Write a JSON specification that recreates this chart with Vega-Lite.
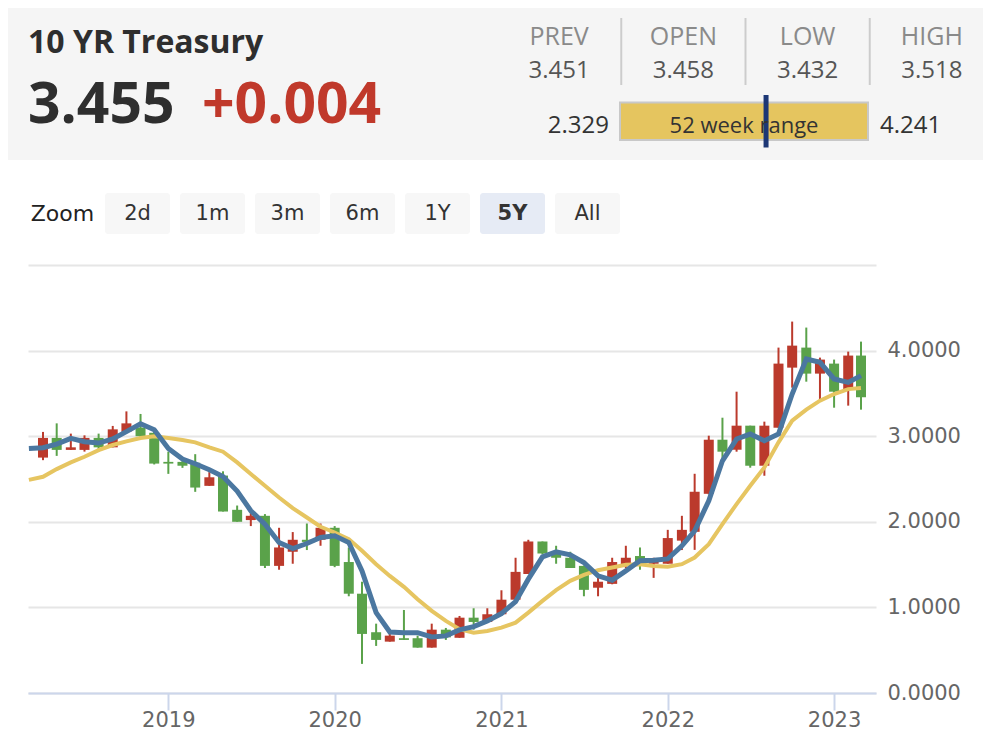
{
  "$schema": "https://vega.github.io/schema/vega-lite/v6.json",
  "background": "white",
  "padding": {"left": 8, "top": 8, "right": 0, "bottom": 0},
  "config": {"view": {"stroke": null}},
  "datasets": {
    "quote": [
      {"line": "name", "part": "main", "text": "10 YR Treasury"},
      {"line": "quote", "part": "main", "text": "3.455"},
      {"line": "quote", "part": "change", "text": "+0.004"}
    ],
    "stats": [
      {"stat": "PREV", "value": "3.451"},
      {"stat": "OPEN", "value": "3.458"},
      {"stat": "LOW", "value": "3.432"},
      {"stat": "HIGH", "value": "3.518"}
    ],
    "range52": [
      {"label": "52 week range", "low": 2.329, "high": 4.241, "last": 3.455}
    ],
    "zoom": [
      {"label": "Zoom", "kind": "label", "selected": false},
      {"label": "2d", "kind": "button", "selected": false},
      {"label": "1m", "kind": "button", "selected": false},
      {"label": "3m", "kind": "button", "selected": false},
      {"label": "6m", "kind": "button", "selected": false},
      {"label": "1Y", "kind": "button", "selected": false},
      {"label": "5Y", "kind": "button", "selected": true},
      {"label": "All", "kind": "button", "selected": false}
    ],
    "candles": [
      {"date": "2018-04-01", "open": 2.75, "high": 3.05, "low": 2.72, "close": 2.98},
      {"date": "2018-05-01", "open": 2.98, "high": 3.15, "low": 2.77, "close": 2.84},
      {"date": "2018-06-01", "open": 2.84, "high": 3.03, "low": 2.84, "close": 2.87},
      {"date": "2018-07-01", "open": 2.84, "high": 3.01, "low": 2.82, "close": 2.98},
      {"date": "2018-08-01", "open": 2.98, "high": 3.03, "low": 2.82, "close": 2.87},
      {"date": "2018-09-01", "open": 2.87, "high": 3.12, "low": 2.87, "close": 3.08},
      {"date": "2018-10-01", "open": 3.05, "high": 3.29, "low": 3.05, "close": 3.15},
      {"date": "2018-11-01", "open": 3.10, "high": 3.26, "low": 2.99, "close": 3.00},
      {"date": "2018-12-01", "open": 3.04, "high": 3.06, "low": 2.67, "close": 2.68},
      {"date": "2019-01-01", "open": 2.70, "high": 2.82, "low": 2.56, "close": 2.68},
      {"date": "2019-02-01", "open": 2.70, "high": 2.73, "low": 2.63, "close": 2.655},
      {"date": "2019-03-01", "open": 2.69, "high": 2.79, "low": 2.35, "close": 2.40},
      {"date": "2019-04-01", "open": 2.42, "high": 2.58, "low": 2.42, "close": 2.52},
      {"date": "2019-05-01", "open": 2.54, "high": 2.59, "low": 2.12, "close": 2.12},
      {"date": "2019-06-01", "open": 2.14, "high": 2.19, "low": 2.00, "close": 2.00},
      {"date": "2019-07-01", "open": 2.02, "high": 2.14, "low": 1.95, "close": 2.07},
      {"date": "2019-08-01", "open": 2.07, "high": 2.09, "low": 1.46, "close": 1.485},
      {"date": "2019-09-01", "open": 1.485, "high": 1.93, "low": 1.44, "close": 1.70},
      {"date": "2019-10-01", "open": 1.65, "high": 1.88, "low": 1.51, "close": 1.79},
      {"date": "2019-11-01", "open": 1.79, "high": 1.98, "low": 1.67, "close": 1.765},
      {"date": "2019-12-01", "open": 1.79, "high": 1.98, "low": 1.72, "close": 1.93},
      {"date": "2020-01-01", "open": 1.93, "high": 1.95, "low": 1.47, "close": 1.485},
      {"date": "2020-02-01", "open": 1.53, "high": 1.70, "low": 1.13, "close": 1.16},
      {"date": "2020-03-01", "open": 1.16, "high": 1.30, "low": 0.34, "close": 0.69},
      {"date": "2020-04-01", "open": 0.71, "high": 0.81, "low": 0.55, "close": 0.62},
      {"date": "2020-05-01", "open": 0.60, "high": 0.71, "low": 0.60, "close": 0.67},
      {"date": "2020-06-01", "open": 0.64, "high": 0.97, "low": 0.62, "close": 0.62},
      {"date": "2020-07-01", "open": 0.64, "high": 0.67, "low": 0.53, "close": 0.53},
      {"date": "2020-08-01", "open": 0.53, "high": 0.81, "low": 0.53, "close": 0.74},
      {"date": "2020-09-01", "open": 0.74, "high": 0.76, "low": 0.62, "close": 0.65},
      {"date": "2020-10-01", "open": 0.645, "high": 0.90, "low": 0.645, "close": 0.88},
      {"date": "2020-11-01", "open": 0.88, "high": 0.99, "low": 0.74, "close": 0.83},
      {"date": "2020-12-01", "open": 0.83, "high": 0.99, "low": 0.83, "close": 0.92},
      {"date": "2021-01-01", "open": 0.92, "high": 1.20, "low": 0.92, "close": 1.09},
      {"date": "2021-02-01", "open": 1.09, "high": 1.58, "low": 1.09, "close": 1.415},
      {"date": "2021-03-01", "open": 1.39, "high": 1.79, "low": 1.39, "close": 1.77},
      {"date": "2021-04-01", "open": 1.77, "high": 1.77, "low": 1.62, "close": 1.63},
      {"date": "2021-05-01", "open": 1.63, "high": 1.72, "low": 1.51, "close": 1.58},
      {"date": "2021-06-01", "open": 1.58, "high": 1.65, "low": 1.46, "close": 1.46},
      {"date": "2021-07-01", "open": 1.485, "high": 1.49, "low": 1.13, "close": 1.205},
      {"date": "2021-08-01", "open": 1.23, "high": 1.345, "low": 1.13, "close": 1.30},
      {"date": "2021-09-01", "open": 1.275, "high": 1.58, "low": 1.27, "close": 1.53},
      {"date": "2021-10-01", "open": 1.485, "high": 1.72, "low": 1.46, "close": 1.58},
      {"date": "2021-11-01", "open": 1.60, "high": 1.70, "low": 1.44, "close": 1.51},
      {"date": "2021-12-01", "open": 1.51, "high": 1.58, "low": 1.345, "close": 1.556},
      {"date": "2022-01-01", "open": 1.51, "high": 1.906, "low": 1.51, "close": 1.81},
      {"date": "2022-02-01", "open": 1.78, "high": 2.07, "low": 1.67, "close": 1.906},
      {"date": "2022-03-01", "open": 1.883, "high": 2.561, "low": 1.672, "close": 2.351},
      {"date": "2022-04-01", "open": 2.327, "high": 3.006, "low": 2.32, "close": 2.959},
      {"date": "2022-05-01", "open": 2.959, "high": 3.216, "low": 2.725, "close": 2.819},
      {"date": "2022-06-01", "open": 2.842, "high": 3.52, "low": 2.819, "close": 3.123},
      {"date": "2022-07-01", "open": 3.123, "high": 3.123, "low": 2.632, "close": 2.655},
      {"date": "2022-08-01", "open": 2.655, "high": 3.17, "low": 2.538, "close": 3.123},
      {"date": "2022-09-01", "open": 3.099, "high": 4.035, "low": 3.099, "close": 3.848},
      {"date": "2022-10-01", "open": 3.801, "high": 4.339, "low": 3.567, "close": 4.058},
      {"date": "2022-11-01", "open": 4.035, "high": 4.269, "low": 3.637, "close": 3.731},
      {"date": "2022-12-01", "open": 3.731, "high": 3.918, "low": 3.427, "close": 3.895},
      {"date": "2023-01-01", "open": 3.848, "high": 3.895, "low": 3.333, "close": 3.52},
      {"date": "2023-02-01", "open": 3.544, "high": 3.988, "low": 3.357, "close": 3.942},
      {"date": "2023-03-01", "open": 3.942, "high": 4.105, "low": 3.31, "close": 3.455}
    ],
    "averages": [
      {"date": "2018-03-01", "fast": 2.855, "slow": 2.49},
      {"date": "2018-04-01", "fast": 2.865, "slow": 2.526},
      {"date": "2018-05-01", "fast": 2.908, "slow": 2.616},
      {"date": "2018-06-01", "fast": 2.975, "slow": 2.694},
      {"date": "2018-07-01", "fast": 2.935, "slow": 2.76},
      {"date": "2018-08-01", "fast": 2.92, "slow": 2.838},
      {"date": "2018-09-01", "fast": 2.967, "slow": 2.897},
      {"date": "2018-10-01", "fast": 3.053, "slow": 2.939},
      {"date": "2018-11-01", "fast": 3.146, "slow": 2.979},
      {"date": "2018-12-01", "fast": 3.076, "slow": 2.998},
      {"date": "2019-01-01", "fast": 2.857, "slow": 2.979},
      {"date": "2019-02-01", "fast": 2.733, "slow": 2.955},
      {"date": "2019-03-01", "fast": 2.678, "slow": 2.928},
      {"date": "2019-04-01", "fast": 2.608, "slow": 2.869},
      {"date": "2019-05-01", "fast": 2.53, "slow": 2.819},
      {"date": "2019-06-01", "fast": 2.36, "slow": 2.694},
      {"date": "2019-07-01", "fast": 2.129, "slow": 2.558},
      {"date": "2019-08-01", "fast": 1.973, "slow": 2.421},
      {"date": "2019-09-01", "fast": 1.758, "slow": 2.284},
      {"date": "2019-10-01", "fast": 1.688, "slow": 2.16},
      {"date": "2019-11-01", "fast": 1.746, "slow": 2.05},
      {"date": "2019-12-01", "fast": 1.817, "slow": 1.942},
      {"date": "2020-01-01", "fast": 1.836, "slow": 1.875},
      {"date": "2020-02-01", "fast": 1.758, "slow": 1.798},
      {"date": "2020-03-01", "fast": 1.427, "slow": 1.661},
      {"date": "2020-04-01", "fast": 0.939, "slow": 1.505},
      {"date": "2020-05-01", "fast": 0.713, "slow": 1.368},
      {"date": "2020-06-01", "fast": 0.705, "slow": 1.24},
      {"date": "2020-07-01", "fast": 0.705, "slow": 1.096},
      {"date": "2020-08-01", "fast": 0.655, "slow": 0.959},
      {"date": "2020-09-01", "fast": 0.667, "slow": 0.842},
      {"date": "2020-10-01", "fast": 0.737, "slow": 0.745},
      {"date": "2020-11-01", "fast": 0.776, "slow": 0.705},
      {"date": "2020-12-01", "fast": 0.842, "slow": 0.725},
      {"date": "2021-01-01", "fast": 0.928, "slow": 0.764},
      {"date": "2021-02-01", "fast": 1.068, "slow": 0.822},
      {"date": "2021-03-01", "fast": 1.33, "slow": 0.939},
      {"date": "2021-04-01", "fast": 1.591, "slow": 1.076},
      {"date": "2021-05-01", "fast": 1.649, "slow": 1.201},
      {"date": "2021-06-01", "fast": 1.614, "slow": 1.31},
      {"date": "2021-07-01", "fast": 1.524, "slow": 1.38},
      {"date": "2021-08-01", "fast": 1.368, "slow": 1.435},
      {"date": "2021-09-01", "fast": 1.318, "slow": 1.466},
      {"date": "2021-10-01", "fast": 1.427, "slow": 1.497},
      {"date": "2021-11-01", "fast": 1.544, "slow": 1.505},
      {"date": "2021-12-01", "fast": 1.552, "slow": 1.485},
      {"date": "2022-01-01", "fast": 1.567, "slow": 1.474},
      {"date": "2022-02-01", "fast": 1.719, "slow": 1.505},
      {"date": "2022-03-01", "fast": 1.895, "slow": 1.583},
      {"date": "2022-04-01", "fast": 2.246, "slow": 1.739},
      {"date": "2022-05-01", "fast": 2.713, "slow": 1.973},
      {"date": "2022-06-01", "fast": 2.967, "slow": 2.207},
      {"date": "2022-07-01", "fast": 3.025, "slow": 2.421},
      {"date": "2022-08-01", "fast": 2.947, "slow": 2.635},
      {"date": "2022-09-01", "fast": 3.025, "slow": 2.928},
      {"date": "2022-10-01", "fast": 3.493, "slow": 3.181},
      {"date": "2022-11-01", "fast": 3.902, "slow": 3.31},
      {"date": "2022-12-01", "fast": 3.863, "slow": 3.415},
      {"date": "2023-01-01", "fast": 3.669, "slow": 3.493},
      {"date": "2023-02-01", "fast": 3.629, "slow": 3.55},
      {"date": "2023-03-01", "fast": 3.708, "slow": 3.562}
    ]
  },
  "spacing": 31,
  "vconcat": [
    {
      "spacing": 33,
      "vconcat": [
        {
          "width": 975,
          "height": 152,
          "view": {"fill": "#f5f5f5", "stroke": null},
          "resolve": {"scale": {"x": "independent", "y": "independent"}},
          "layer": [
            {
              "data": {"name": "quote"},
              "encoding": {
                "x": {"field": "part", "type": "nominal", "axis": null,
                      "scale": {"type": "point", "domain": ["main", "change"], "range": [20, 194], "padding": 0}},
                "y": {"field": "line", "type": "nominal", "axis": null,
                      "scale": {"type": "point", "domain": ["name", "quote"], "range": [45, 115], "padding": 0}},
                "text": {"field": "text"}
              },
              "layer": [
                {
                  "transform": [{"filter": "datum.line === 'name'"}],
                  "mark": {"type": "text", "align": "left", "baseline": "alphabetic", "font": "Open Sans", "fontWeight": "bold", "fontSize": 32, "color": "#2e2e2e"}
                },
                {
                  "transform": [{"filter": "datum.line === 'quote'"}],
                  "mark": {"type": "text", "align": "left", "baseline": "alphabetic", "font": "Open Sans", "fontWeight": "bold", "fontSize": 57},
                  "encoding": {"color": {"condition": {"test": "datum.part === 'change'", "value": "#c0392b"}, "value": "#2e2e2e"}}
                }
              ]
            },
            {
              "data": {"name": "stats"},
              "encoding": {
                "x": {"field": "stat", "type": "nominal", "axis": null,
                      "scale": {"type": "band", "domain": ["PREV", "OPEN", "LOW", "HIGH"], "range": [489, 986], "paddingInner": 0, "paddingOuter": 0}}
              },
              "layer": [
                {
                  "mark": {"type": "text", "align": "center", "baseline": "alphabetic", "font": "Open Sans", "fontSize": 25, "color": "#8a8a8a"},
                  "encoding": {
                    "text": {"field": "stat"},
                    "y": {"datum": "label", "type": "nominal", "axis": null,
                          "scale": {"type": "point", "domain": ["top", "g1", "g2", "g3", "label", "g5", "g6", "g7", "g8", "value", "bottom"], "range": [10, 77], "padding": 0}}
                  }
                },
                {
                  "mark": {"type": "text", "align": "center", "baseline": "alphabetic", "font": "Open Sans", "fontSize": 24, "color": "#555555"},
                  "encoding": {
                    "text": {"field": "value"},
                    "y": {"datum": "value", "type": "nominal"}
                  }
                },
                {
                  "transform": [{"filter": "datum.stat !== 'PREV'"}],
                  "mark": {"type": "rule", "color": "#cccccc", "strokeWidth": 2},
                  "encoding": {
                    "x": {"field": "stat", "type": "nominal", "bandPosition": 0},
                    "y": {"datum": "top", "type": "nominal"},
                    "y2": {"datum": "bottom"}
                  }
                }
              ]
            },
            {
              "data": {"name": "range52"},
              "encoding": {
                "x": {"field": "low", "type": "quantitative", "axis": null,
                      "scale": {"domain": [2.329, 4.241], "range": [612, 860], "zero": false, "nice": false}}
              },
              "layer": [
                {
                  "mark": {"type": "rect", "fill": "#e5c55f", "stroke": "#c8c8c8", "strokeWidth": 2},
                  "encoding": {
                    "x2": {"field": "high"},
                    "y": {"datum": "btop", "type": "nominal", "axis": null,
                          "scale": {"type": "point", "domain": ["mtop", "btop", "g2", "g3", "g4", "base", "bbot", "mbot"], "range": [87, 139.5], "padding": 0}},
                    "y2": {"datum": "bbot"}
                  }
                },
                {
                  "mark": {"type": "text", "align": "right", "baseline": "alphabetic", "dx": -11, "font": "Open Sans", "fontSize": 24, "color": "#333333"},
                  "encoding": {
                    "text": {"field": "low", "format": ".3f"},
                    "y": {"datum": "base", "type": "nominal"}
                  }
                },
                {
                  "mark": {"type": "text", "align": "left", "baseline": "alphabetic", "dx": 12, "font": "Open Sans", "fontSize": 24, "color": "#333333"},
                  "encoding": {
                    "x": {"field": "high", "type": "quantitative"},
                    "text": {"field": "high", "format": ".3f"},
                    "y": {"datum": "base", "type": "nominal"}
                  }
                },
                {
                  "mark": {"type": "rule", "color": "#1c3775", "strokeWidth": 5},
                  "encoding": {
                    "x": {"field": "last", "type": "quantitative"},
                    "y": {"datum": "mtop", "type": "nominal"},
                    "y2": {"datum": "mbot"}
                  }
                }
              ]
            },
            {
              "data": {"name": "range52"},
              "mark": {"type": "text", "align": "center", "baseline": "alphabetic", "font": "Open Sans", "fontSize": 22, "color": "#333333"},
              "encoding": {
                "x": {"field": "label", "type": "nominal", "axis": null,
                      "scale": {"type": "band", "domain": ["52 week range"], "range": [612, 860], "paddingInner": 0, "paddingOuter": 0}},
                "y": {"datum": "base", "type": "nominal", "axis": null,
                      "scale": {"type": "point", "domain": ["mtop", "btop", "g2", "g3", "g4", "base", "bbot", "mbot"], "range": [87, 139.5], "padding": 0}},
                "text": {"field": "label"}
              }
            }
          ]
        },
        {
          "width": 640,
          "height": 41,
          "data": {"name": "zoom"},
          "encoding": {
            "x": {"field": "label", "type": "nominal", "axis": null,
                  "scale": {"type": "band", "domain": ["Zoom", "2d", "1m", "3m", "6m", "1Y", "5Y", "All"], "range": [22, 612], "paddingInner": 0.1333, "paddingOuter": 0}}
          },
          "layer": [
            {
              "transform": [{"filter": "datum.kind === 'button'"}],
              "mark": {"type": "rect", "cornerRadius": 3},
              "encoding": {
                "color": {"condition": {"test": "datum.selected", "value": "#e6ebf5"}, "value": "#f7f7f7"}
              }
            },
            {
              "transform": [{"filter": "datum.kind === 'label'"}],
              "mark": {"type": "text", "align": "center", "baseline": "middle", "font": "DejaVu Sans", "fontSize": 22, "color": "#222222"},
              "encoding": {
                "text": {"field": "label"}
              }
            },
            {
              "transform": [{"filter": "datum.kind === 'button' && !datum.selected"}],
              "mark": {"type": "text", "align": "center", "baseline": "middle", "font": "DejaVu Sans", "fontSize": 21, "color": "#333333"},
              "encoding": {
                "text": {"field": "label"}
              }
            },
            {
              "transform": [{"filter": "datum.selected"}],
              "mark": {"type": "text", "align": "center", "baseline": "middle", "font": "DejaVu Sans", "fontSize": 21, "fontWeight": "bold", "color": "#333333"},
              "encoding": {
                "text": {"field": "label"}
              }
            }
          ]
        }
      ]
    },
    {
      "spacing": 0,
      "hconcat": [
        {
          "width": 20,
          "height": 428,
          "data": {"values": [{"spacer": true}]},
          "mark": {"type": "point", "opacity": 0, "size": 1},
          "encoding": {}
        },
        {
          "width": 848,
          "height": 428,
          "resolve": {"axis": {"y": "independent"}},
          "layer": [
            {
              "data": {"name": "candles"},
              "mark": {"type": "rule", "strokeWidth": 2},
              "encoding": {
                "x": {"field": "date", "type": "temporal",
                      "scale": {"type": "utc", "domain": [{"year": 2018, "month": 3, "date": 10, "utc": true}, {"year": 2023, "month": 3, "date": 23, "utc": true}]},
                      "axis": {"format": "%Y", "tickCount": {"interval": "year", "step": 1}, "grid": false, "title": null,
                               "domainColor": "#ccd6eb", "domainWidth": 2, "tickColor": "#ccd6eb", "tickWidth": 2, "tickSize": 17,
                               "labelPadding": -1, "labelFont": "DejaVu Sans", "labelFontSize": 21, "labelColor": "#666666", "labelFlush": false, "zindex": 1}},
                "y": {"field": "low", "type": "quantitative",
                      "scale": {"domain": [0, 5], "nice": false, "zero": true},
                      "axis": {"orient": "right", "values": [0, 1, 2, 3, 4], "format": ".4f", "grid": false, "ticks": false, "domain": false,
                               "labelPadding": 11, "labelFont": "DejaVu Sans", "labelFontSize": 21, "labelColor": "#666666", "title": null}},
                "y2": {"field": "high"},
                "color": {"condition": {"test": "datum.close > datum.open", "value": "#bb3a2c"}, "value": "#5aa24a"}
              }
            },
            {
              "data": {"name": "candles"},
              "mark": {"type": "bar", "width": 10},
              "encoding": {
                "x": {"field": "date", "type": "temporal"},
                "y": {"field": "open", "type": "quantitative", "axis": null},
                "y2": {"field": "close"},
                "color": {"condition": {"test": "datum.close > datum.open", "value": "#bb3a2c"}, "value": "#5aa24a"}
              }
            },
            {
              "data": {"name": "averages"},
              "mark": {"type": "line", "color": "#e6c561", "strokeWidth": 4, "clip": true},
              "encoding": {
                "x": {"field": "date", "type": "temporal"},
                "y": {"field": "slow", "type": "quantitative",
                      "axis": {"orient": "left", "values": [0, 1, 2, 3, 4, 5], "labels": false, "domain": false, "grid": true,
                               "gridColor": "#e6e6e6", "gridWidth": 2, "ticks": false, "title": null}}
              }
            },
            {
              "data": {"name": "averages"},
              "mark": {"type": "line", "color": "#4b77a0", "strokeWidth": 5, "clip": true},
              "encoding": {
                "x": {"field": "date", "type": "temporal"},
                "y": {"field": "fast", "type": "quantitative", "axis": null}
              }
            }
          ]
        }
      ]
    }
  ]
}
